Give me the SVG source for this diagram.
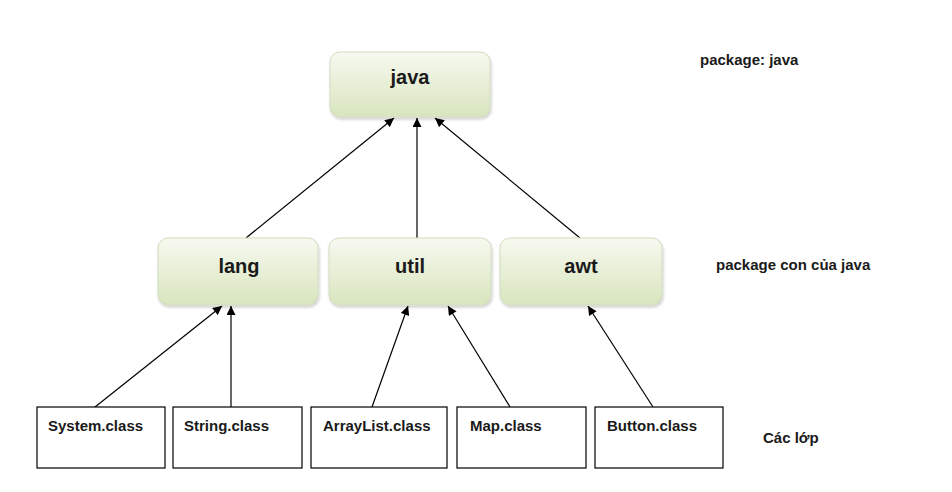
<svg xmlns="http://www.w3.org/2000/svg" width="952" height="492" viewBox="0 0 952 492">
<defs>
<linearGradient id="g" x1="0" y1="0" x2="0" y2="1">
<stop offset="0" stop-color="#f7f9f0"/>
<stop offset="1" stop-color="#d8e5bd"/>
</linearGradient>
<marker id="ah" viewBox="0 0 10 10" refX="10" refY="5" markerWidth="10" markerHeight="9" markerUnits="userSpaceOnUse" orient="auto">
<path d="M0,0 L10,5 L0,10 Z" fill="#000"/>
</marker>
<filter id="sh" x="-10%" y="-10%" width="125%" height="130%">
<feGaussianBlur in="SourceAlpha" stdDeviation="1.5"/>
<feOffset dx="1" dy="2" result="b"/>
<feComponentTransfer><feFuncA type="linear" slope="0.2"/></feComponentTransfer>
<feMerge><feMergeNode/><feMergeNode in="SourceGraphic"/></feMerge>
</filter>
</defs>
<style>
.pkg{fill:url(#g);stroke:#d2dcc0;stroke-width:1;filter:url(#sh)}
.pt{font-family:"Liberation Sans",Arial,sans-serif;font-weight:bold;font-size:20px;fill:#1a1a1a;text-anchor:middle}
.cls{fill:#fff;stroke:#000;stroke-width:1.2}
.ct{font-family:"Liberation Sans",Arial,sans-serif;font-weight:bold;font-size:15px;fill:#1a1a1a}
.lab{font-family:"Liberation Sans",Arial,sans-serif;font-weight:bold;font-size:15px;fill:#1a1a1a}
.c{stroke:#000;stroke-width:1.2;fill:none;marker-end:url(#ah)}
</style>
<rect width="952" height="492" fill="#fff"/>
<g id="connectors">
<line class="c" x1="246" y1="238" x2="394" y2="118"/>
<line class="c" x1="417" y1="238" x2="417" y2="118"/>
<line class="c" x1="580" y1="238" x2="435" y2="118"/>
<line class="c" x1="95" y1="407" x2="222" y2="306"/>
<line class="c" x1="231" y1="407" x2="231" y2="306"/>
<line class="c" x1="372" y1="407" x2="408" y2="306"/>
<line class="c" x1="510" y1="407" x2="448" y2="306"/>
<line class="c" x1="653" y1="407" x2="588" y2="306"/>
</g>
<g id="java"><rect class="pkg" x="330" y="52" width="160" height="65" rx="10"/><text class="pt" x="410" y="84">java</text></g>
<g id="lang"><rect class="pkg" x="158" y="238" width="160" height="67" rx="10"/><text class="pt" x="239" y="273">lang</text></g>
<g id="util"><rect class="pkg" x="329" y="238" width="162" height="67" rx="10"/><text class="pt" x="410" y="273">util</text></g>
<g id="awt"><rect class="pkg" x="500" y="238" width="162" height="67" rx="10"/><text class="pt" x="581" y="273">awt</text></g>
<g id="system"><rect class="cls" x="37" y="407" width="128" height="61"/><text class="ct" x="48" y="431">System.class</text></g>
<g id="string"><rect class="cls" x="173" y="407" width="129" height="61"/><text class="ct" x="184" y="431">String.class</text></g>
<g id="arraylist"><rect class="cls" x="311" y="407" width="136" height="61"/><text class="ct" x="323" y="431">ArrayList.class</text></g>
<g id="map"><rect class="cls" x="457" y="407" width="129" height="61"/><text class="ct" x="470" y="431">Map.class</text></g>
<g id="button"><rect class="cls" x="595" y="407" width="128" height="61"/><text class="ct" x="607" y="431">Button.class</text></g>
<g id="labels">
<text class="lab" x="700" y="65">package: java</text>
<text class="lab" x="716" y="270">package con của java</text>
<text class="lab" x="763" y="443">Các lớp</text>
</g>
</svg>
